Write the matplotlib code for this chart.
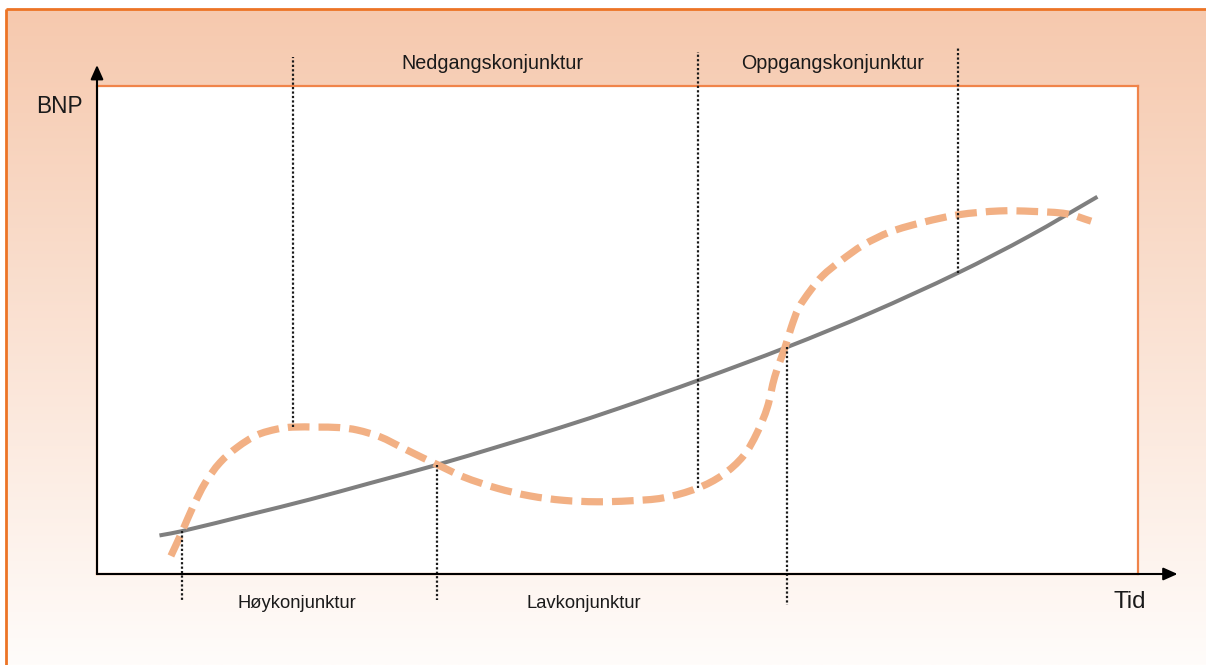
import numpy as np
import matplotlib
matplotlib.use("Agg")
import matplotlib.pyplot as plt
from matplotlib.path import Path
from matplotlib.patches import PathPatch
from matplotlib.lines import Line2D

plt.rcParams['font.family'] = ['Liberation Sans', 'DejaVu Sans']

# Long-run trend of GDP (BNP) over time
trend_time = [6.0, 8.2, 14.7, 20.5, 26.2, 32.7, 38.7, 44.5, 50.2, 57.9, 66.3, 74.3, 82.7, 89.6, 96.1]
trend_bnp = [7.9, 8.8, 12.2, 15.3, 18.6, 22.4, 26.2, 30.0, 34.0, 39.8, 46.5, 53.5, 61.7, 69.3, 77.3]

# Actual GDP swinging around the trend (business cycle)
cycle_time = [7.1, 8.2, 9.2, 10.4, 11.8, 13.5, 15.4, 17.3, 18.8, 21.1, 23.3, 25.0,
              27.2, 29.4, 31.3, 32.7, 35.2, 38.4, 41.6, 44.8, 48.0, 51.2, 54.4,
              57.7, 60.1, 62.1, 63.4, 64.4, 65.1, 66.1, 66.7, 67.4, 68.5, 69.7,
              71.4, 73.6, 76.2, 79.4, 82.7, 86.7, 89.9, 93.2, 95.5]
cycle_bnp = [3.7, 8.8, 13.7, 18.7, 22.8, 26.0, 28.5, 29.7, 30.1, 30.1, 30.0, 29.5,
             28.1, 25.8, 23.8, 22.4, 19.9, 17.6, 16.0, 15.1, 14.8, 15.0, 15.6,
             17.6, 20.3, 24.2, 28.9, 34.2, 40.4, 46.5, 50.6, 54.5, 58.0, 61.1,
             64.1, 67.4, 70.1, 72.1, 73.6, 74.4, 74.3, 73.8, 72.3]

# Phase boundaries: time, where the guide touches a curve, where it ends
phase_time = [8.2, 18.8, 32.7, 57.7, 66.3, 82.7]
phase_start = [8.8, 30.1, 22.4, 17.6, 46.5, 61.7]
phase_end = [-5.3, 106.0, -5.3, 107.0, -6.3, 107.8]

# Phase names with their anchor positions
phase_labels = ["Nedgangskonjunktur", "Oppgangskonjunktur", "Høykonjunktur", "Lavkonjunktur"]
label_time = [38.0, 70.7, 19.2, 46.8]
label_bnp = [103.5, 103.5, -6.9, -6.9]
label_size = [14.2, 14.2, 13.2, 13.2]

W, H = 1206, 665
fig = plt.figure(figsize=(W / 100, H / 100), dpi=100)

# Peach-to-white backdrop with an orange frame along the top and left
bg = fig.add_axes([0, 0, 1, 1])
bg.set_xlim(0, W)
bg.set_ylim(H, 0)
bg.axis('off')
top_rgb = np.array([246, 201, 174]) / 255
bot_rgb = np.array([255, 252, 250]) / 255
t = np.linspace(0, 1, 256)[:, None, None]
grad = top_rgb * (1 - t) + bot_rgb * t
grad = np.repeat(grad, 2, axis=1)
bg.imshow(grad, extent=(6, W, H, 9), aspect='auto', interpolation='bilinear')
bg.plot([6, W], [9, 9], color='#EC7426', lw=2.0, solid_capstyle='butt')
bg.plot([6, 6], [9, H], color='#EC7426', lw=2.0, solid_capstyle='butt')

# Main chart area
ax = fig.add_axes([97 / W, (H - 574) / H, (1138 - 97) / W, (574 - 86) / H])
ax.set_xlim(0, 100)
ax.set_ylim(0, 100)
ax.set_facecolor('white')
for s in ax.spines.values():
    s.set_color('#F0844A')
    s.set_linewidth(1.6)
ax.set_xticks([])
ax.set_yticks([])


def smooth_path(xs, ys):
    """Chord-length Hermite spline through the points, as cubic Bezier segments."""
    p = np.column_stack([xs, ys]).astype(float)
    disp = ax.transData.transform(p)
    d = np.hypot(*np.diff(disp, axis=0).T)
    m = np.zeros_like(p)
    m[0] = (p[1] - p[0]) / d[0]
    m[-1] = (p[-1] - p[-2]) / d[-1]
    for i in range(1, len(p) - 1):
        m[i] = (p[i + 1] - p[i - 1]) / (d[i - 1] + d[i])
    verts = [p[0]]
    codes = [Path.MOVETO]
    for i in range(len(p) - 1):
        verts += [p[i] + m[i] * d[i] / 3, p[i + 1] - m[i + 1] * d[i] / 3, p[i + 1]]
        codes += [Path.CURVE4] * 3
    return Path(verts, codes)


trend = PathPatch(smooth_path(trend_time, trend_bnp), fill=False,
                  edgecolor='#7F7F7F', lw=2.9, capstyle='butt', zorder=3)
ax.add_patch(trend)

cycle = PathPatch(smooth_path(cycle_time, cycle_bnp), fill=False,
                  edgecolor='#F2B084', lw=5.2, capstyle='butt', zorder=4)
cycle.set_linestyle((0, (3.0, 1.25)))
ax.add_patch(cycle)

for x, y0, y1 in zip(phase_time, phase_start, phase_end):
    ax.add_line(Line2D([x, x], [y0, y1], color='#1a1a1a', lw=1.6,
                       linestyle=(0, (1, 1)), clip_on=False, zorder=5))

# Axis arrows
arrow = dict(arrowstyle='-|>,head_length=0.85,head_width=0.38', color='black',
             lw=1.5, shrinkA=0, shrinkB=0, mutation_scale=10)
ax.annotate('', xy=(0, 104.3), xytext=(0, 0), arrowprops=arrow,
            annotation_clip=False, zorder=6)
ax.annotate('', xy=(103.8, 0), xytext=(0, 0), arrowprops=arrow,
            annotation_clip=False, zorder=6)

for txt, x, y, fs in zip(phase_labels, label_time, label_bnp, label_size):
    ax.text(x, y, txt, ha='center', va='baseline', fontsize=fs, color='#1a1a1a',
            clip_on=False)

ax.text(-5.8, 94.5, "BNP", ha='left', va='baseline', fontsize=16.3, color='#1a1a1a')
ax.text(97.6, -7.0, "Tid", ha='left', va='baseline', fontsize=17.3, color='#1a1a1a')

fig.savefig('out.png', dpi=100)
